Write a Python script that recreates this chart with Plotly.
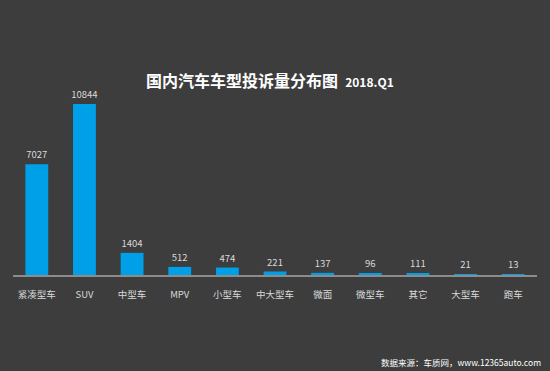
import plotly.graph_objects as go

categories = ["紧凑型车", "SUV", "中型车", "MPV", "小型车", "中大型车", "微面", "微型车", "其它", "大型车", "跑车"]
values = [7027, 10844, 1404, 512, 474, 221, 137, 96, 111, 21, 13]

title_main = "国内汽车车型投诉量分布图"
title_sub = "2018.Q1"
source_text = "数据来源：车质网，www.12365auto.com"

FONT = "Noto Sans CJK SC, Microsoft YaHei, sans-serif"
BG = "#3d3d3d"
BAR = "#00a0e9"

W, H = 550, 371
ML, MR, MT, MB = 13, 13, 80, 95.5

fig = go.Figure(go.Bar(
    x=categories, y=values,
    marker=dict(color=BAR, line=dict(width=0)),
    text=[str(v) for v in values],
    textposition="outside",
    constraintext="none",
    textfont=dict(family=FONT, size=9.5, color="#d9d9d9"),
    cliponaxis=False,
))

plot_w = W - ML - MR
plot_h = H - MT - MB
def px_to_paper_x(px):
    return (px - ML) / plot_w
def px_to_paper_y(py):
    return (H - MB - py) / plot_h

fig.update_layout(
    width=W, height=H,
    paper_bgcolor=BG, plot_bgcolor=BG,
    margin=dict(l=ML, r=MR, t=MT, b=MB),
    bargap=0.52,
    showlegend=False,
    xaxis=dict(
        showgrid=False, zeroline=False,
        showline=True, linecolor="#8c8c8c", linewidth=1.5,
        ticks="", tickfont=dict(family=FONT, size=9.5, color="#d9d9d9"),
        ticklabelstandoff=10,
    ),
    yaxis=dict(
        range=[0, 12361], visible=False, showgrid=False, zeroline=False,
    ),
    annotations=[
        dict(
            text=f"<b>{title_main}</b>  <b><span style='font-size:12px'>{title_sub}</span></b>",
            x=px_to_paper_x(270), y=px_to_paper_y(80), xref="paper", yref="paper",
            xanchor="center", yanchor="middle", showarrow=False,
            font=dict(family=FONT, size=16, color="#ffffff"),
        ),
        dict(
            text=source_text,
            x=px_to_paper_x(543), y=px_to_paper_y(363), xref="paper", yref="paper",
            xanchor="right", yanchor="middle", showarrow=False,
            font=dict(family=FONT, size=8.5, color="#ffffff"),
        ),
    ],
)

fig.write_html(
    "out.html",
    config={"displayModeBar": False},
    post_script="document.body.style.margin='0';document.body.style.padding='0';",
)
